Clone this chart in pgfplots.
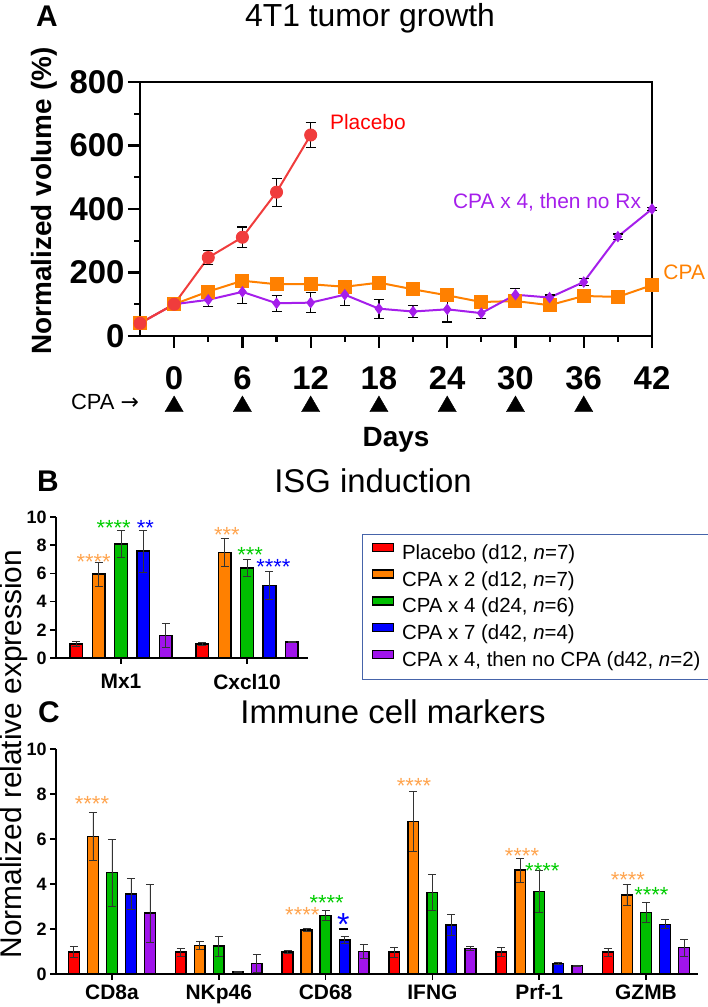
\documentclass[border=0pt]{standalone}
\usepackage{pgfplots}
\usepackage{pgfplotstable}
\pgfplotsset{compat=1.18}
\usepackage{fontspec}
\setmainfont{Liberation Sans}
\newfontfamily\dejavu{DejaVu Sans}
\definecolor{cRed}{RGB}{240,60,60}
\definecolor{cOr}{RGB}{255,128,0}
\definecolor{cPu}{RGB}{165,30,235}
\definecolor{bRed}{RGB}{255,0,0}
\definecolor{bOr}{RGB}{255,128,0}
\definecolor{bGr}{RGB}{0,190,0}
\definecolor{bBl}{RGB}{0,0,255}
\definecolor{bPu}{RGB}{160,20,235}
\definecolor{sOr}{RGB}{255,165,80}
\definecolor{sGr}{RGB}{0,205,0}
\definecolor{sBl}{RGB}{0,0,255}
\definecolor{legbd}{RGB}{70,100,170}
\newcommand{\fs}[1]{\fontsize{#1}{#1}\selectfont}

% ---------- Panel A data ----------
\pgfplotstableread{
x y e
-3 40 0
0 100 0
3 247 21
6 311 32
9 453 44
12 633 40
}\tPlacebo
\pgfplotstableread{
x y e
-3 40 0
0 100 0
3 140 10
6 174 12
9 163 10
12 163 8
15 155 20
18 168 15
21 147 18
24 128 20
27 107 15
30 110 15
33 97 8
36 126 8
39 123 15
42 160 20
}\tCPA
\pgfplotstableread{
x y e
-3 40 0
0 100 0
3 114 20
6 139 36
9 103 25
12 105 32
15 130 35
18 86 30
21 77 20
24 84 40
27 72 18
30 130 20
33 121 8
36 170 10
39 313 8
42 400 5
}\tNoRx

% ---------- Panel B data ----------
\pgfplotstableread{
x y e
-0.356 1.00 0.20
0.644 1.00 0.12
}\bRedT
\pgfplotstableread{
x y e
-0.178 5.95 0.85
0.822 7.48 0.97
}\bOrT
\pgfplotstableread{
x y e
0 8.10 0.95
1 6.40 0.60
}\bGrT
\pgfplotstableread{
x y e
0.178 7.58 1.50
1.178 5.13 1.00
}\bBlT
\pgfplotstableread{
x y e
0.356 1.60 0.83
1.356 1.15 0.03
}\bPuT

% ---------- Panel C data ----------
\pgfplotstableread{
x y e
-0.356 0.97 0.25
0.644 0.97 0.18
1.644 0.97 0.07
2.644 0.97 0.23
3.644 0.97 0.20
4.644 0.97 0.17
}\cRedT
\pgfplotstableread{
x y e
-0.178 6.12 1.07
0.822 1.26 0.18
1.822 1.96 0.08
2.822 6.77 1.33
3.822 4.62 0.53
4.822 3.51 0.46
}\cOrT
\pgfplotstableread{
x y e
0 4.50 1.50
1 1.24 0.45
2 2.60 0.22
3 3.63 0.80
4 3.66 0.92
5 2.73 0.43
}\cGrT
\pgfplotstableread{
x y e
0.178 3.56 0.70
1.178 0.09 0.03
2.178 1.51 0.15
3.178 2.18 0.48
4.178 0.47 0.05
5.178 2.21 0.20
}\cBlT
\pgfplotstableread{
x y e
0.356 2.70 1.30
1.356 0.47 0.38
2.356 1.00 0.30
3.356 1.14 0.08
4.356 0.37 0.03
5.356 1.17 0.37
}\cPuT

\pgfplotsset{
  mybar/.style={ybar, fill=#1, draw=black, line width=1.5bp, bar shift=0pt, bar width=0.1,
    legend image code/.code={\draw[##1, fill=#1, draw=black, line width=1.5bp] (0bp,3bp) rectangle (21bp,11bp);},
    error bars/y dir=both, error bars/y explicit,
    error bars/error bar style={line width=0.9bp, black!80},
    error bars/error mark options={rotate=90, mark size=4bp, line width=0.9bp, black!80}},
  myline/.style={color=#1, line width=2bp, mark options={fill=#1, draw=#1, line width=1bp},
    error bars/y dir=both, error bars/y explicit,
    error bars/error bar style={black, line width=1.2bp},
    error bars/error mark options={rotate=90, black, mark size=5bp, line width=1.2bp}},
  barax/.style={scale only axis, anchor=south west, ymin=0, ymax=10, ytick={0,2,...,10},
    axis x line=bottom, axis y line=left,
    axis line style={-, line width=1.8bp},
    x axis line style={-}, y axis line style={-},
    tick style={black, line width=1.5bp}, tick align=outside, major tick length=6bp,
    /pgf/number format/assume math mode=true,
    yticklabel style={font=\bfseries\fs{18}},
    xticklabel style={font=\bfseries\fs{21}},
    clip=false}
}
\newcommand{\st}[5]{\node[text=#3, font=\fs{#5}, anchor=base, yshift=-0.58*#5 bp, inner sep=0pt] at (axis cs:#1,#2) {#4};}

\begin{document}
\begin{tikzpicture}[x=1bp,y=1bp]
\path[use as bounding box] (0,0) rectangle (708,1007);

% ======== Panel A ========
\begin{axis}[
  at={(140bp,671bp)}, anchor=south west, scale only axis,
  width=512bp, height=254bp,
  xmin=-3, xmax=42, ymin=0, ymax=800,
  xtick={0,6,...,42}, ytick={0,200,...,800},
  minor x tick num=1, minor y tick num=1,
  xtick pos=lower, ytick pos=left, tick align=outside,
  major tick length=12bp, minor tick length=6bp,
  axis line style={line width=2.5bp},
  tick style={black, line width=2.2bp},
  /pgf/number format/assume math mode=true,
  ticklabel style={font=\bfseries\fs{33}},
  xticklabel style={yshift=-15bp},
  clip=false,
]
\addplot[myline=cOr, mark=square*, mark size=6.5bp] table[x=x,y=y,y error=e]{\tCPA};
\addplot[myline=cPu, mark=diamond*, mark size=5bp] table[x=x,y=y,y error=e]{\tNoRx};
\addplot[myline=cRed, mark=*, mark size=6bp] table[x=x,y=y,y error=e]{\tPlacebo};
\addplot[only marks, mark=triangle*, mark size=10.5bp, black] coordinates {(0,-222) (6,-222) (12,-222) (18,-222) (24,-222) (30,-222) (36,-222)};
\node[anchor=west, text=red, font=\fs{21}] at (axis cs:13.4,674) {Placebo};
\node[anchor=west, text=cPu, font=\fs{21}] at (axis cs:24.2,422) {CPA x 4, then no Rx};
\node[anchor=west, text=cOr, font=\fs{21}] at (axis cs:42.7,201) {CPA};
\end{axis}

\node[anchor=base, font=\fs{32}] at (370,980) {4T1 tumor growth};
\node[anchor=base, font=\bfseries\fs{30}] at (47,980) {A};
\node[rotate=90, font=\bfseries\fs{28}] at (44,806) {Normalized volume (\%)};
\node[anchor=base, font=\fs{22}] at (105,597) {CPA {\dejavu →}};
\node[anchor=base, font=\bfseries\fs{28}] at (396,560) {Days};

% ======== Panel B ========
\begin{axis}[barax,
  at={(56bp,349bp)}, width=252bp, height=141bp,
  xmin=-0.516, xmax=1.484,
  xtick={0,1}, xticklabels={Mx1,Cxcl10},
  xticklabel style={yshift=-7bp},
  legend style={at={(1.214,0.880)}, anchor=north west, draw=legbd, line width=1.2bp,
    font=\fs{20.5}, inner xsep=9bp, inner ysep=8bp, column sep=8bp, row sep=5bp,
    nodes={inner sep=0bp, text height=15bp, text depth=5bp}},
  legend cell align=left,
]
\addplot[mybar=bRed] table[x=x,y=y,y error=e]{\bRedT};
\addlegendentry{Placebo (d12, \textit{n}=7)}
\addplot[mybar=bOr] table[x=x,y=y,y error=e]{\bOrT};
\addlegendentry{CPA x 2 (d12, \textit{n}=7)}
\addplot[mybar=bGr] table[x=x,y=y,y error=e]{\bGrT};
\addlegendentry{CPA x 4 (d24, \textit{n}=6)}
\addplot[mybar=bBl] table[x=x,y=y,y error=e]{\bBlT};
\addlegendentry{CPA x 7 (d42, \textit{n}=4)}
\addplot[mybar=bPu] table[x=x,y=y,y error=e]{\bPuT};
\addlegendentry{CPA x 4, then no CPA (d42, \textit{n}=2)}
\st{-0.217}{7.18}{sOr}{****}{22}
\st{-0.058}{9.6}{sGr}{****}{22}
\st{0.193}{9.6}{sBl}{**}{22}
\st{0.841}{9.1}{sOr}{***}{22}
\st{1.024}{7.7}{sGr}{***}{22}
\st{1.209}{6.8}{sBl}{****}{22}
\end{axis}

\node[anchor=base, font=\bfseries\fs{30}] at (48,515) {B};
\node[anchor=base, font=\fs{33}] at (373,514) {ISG induction};
\node[rotate=90, font=\fs{30}] at (14,253) {Normalized relative expression};

% ======== Panel C ========
\begin{axis}[barax,
  at={(56bp,33bp)}, width=642bp, height=225bp,
  xmin=-0.524, xmax=5.487,
  xtick={0,...,5}, xticklabels={CD8a,NKp46,CD68,IFNG,Prf-1,GZMB},
  xticklabel style={yshift=-1bp},
]
\addplot[mybar=bRed] table[x=x,y=y,y error=e]{\cRedT};
\addplot[mybar=bOr] table[x=x,y=y,y error=e]{\cOrT};
\addplot[mybar=bGr] table[x=x,y=y,y error=e]{\cGrT};
\addplot[mybar=bBl] table[x=x,y=y,y error=e]{\cBlT};
\addplot[mybar=bPu] table[x=x,y=y,y error=e]{\cPuT};
\st{-0.187}{7.78}{sOr}{****}{22}
\st{1.782}{2.84}{sOr}{****}{22}
\st{2.010}{3.40}{sGr}{****}{22}
\st{2.166}{2.52}{sBl}{*}{32}
\draw[line width=1.6bp] (axis cs:2.121,2.0) -- (axis cs:2.211,2.0);
\st{2.828}{8.6}{sOr}{****}{22}
\st{3.839}{5.48}{sOr}{****}{22}
\st{4.029}{4.83}{sGr}{****}{22}
\st{4.831}{4.39}{sOr}{****}{22}
\st{5.050}{3.73}{sGr}{****}{22}
\end{axis}

\node[anchor=base, font=\bfseries\fs{30}] at (49,284) {C};
\node[anchor=base, font=\fs{33}] at (393,283) {Immune cell markers};
\end{tikzpicture}
\end{document}
